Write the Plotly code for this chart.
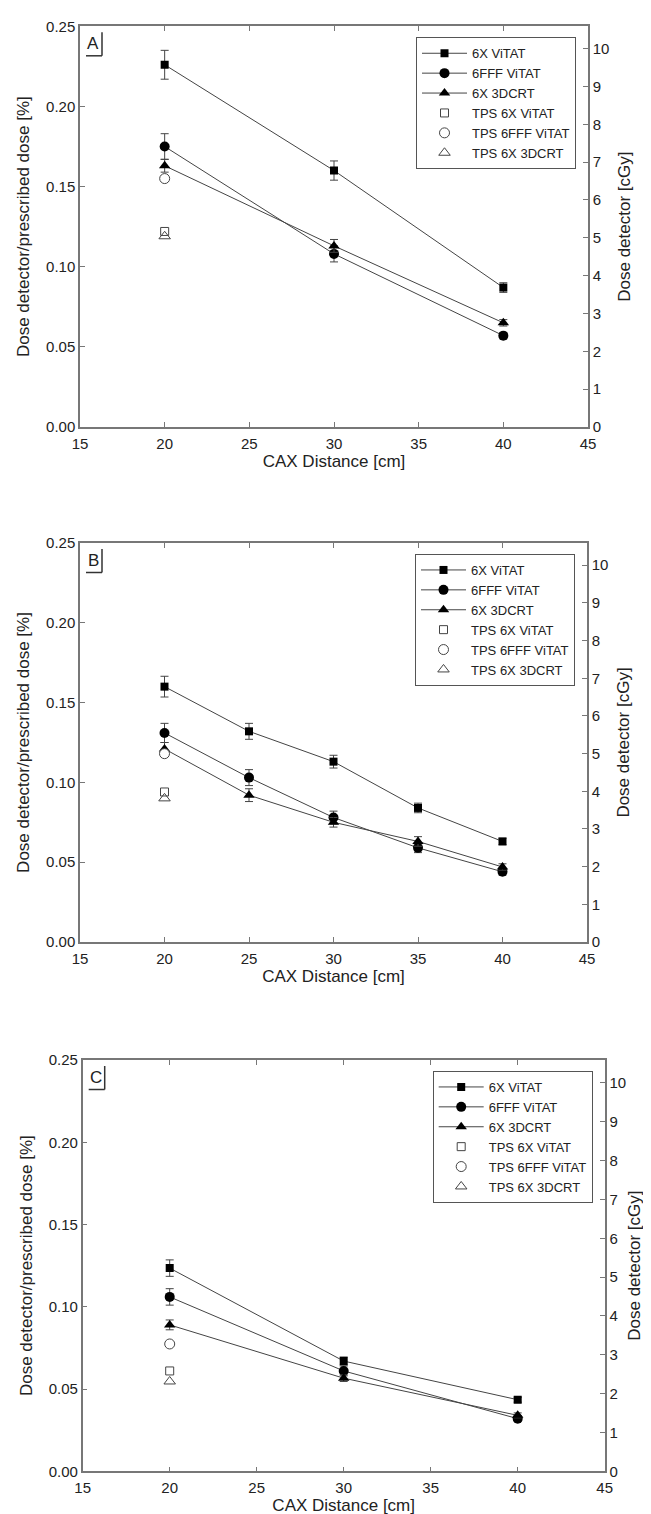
import plotly.graph_objects as go

W, H = 651, 1514

# ---- data (ratio detector / prescribed dose, %) ----
dist_a = [20, 30, 40]
vitat6x_a = [0.226, 0.160, 0.087]
vitat6x_err_a = [0.009, 0.006, 0.003]
fff_a = [0.175, 0.108, 0.057]
fff_err_a = [0.008, 0.005, 0.002]
crt_a = [0.163, 0.113, 0.065]
crt_err_a = [0.004, 0.004, 0.002]
tps_6x_a = [0.122]
tps_fff_a = [0.155]
tps_crt_a = [0.119]

dist_b = [20, 25, 30, 35, 40]
vitat6x_b = [0.160, 0.132, 0.113, 0.084, 0.063]
vitat6x_err_b = [0.0065, 0.005, 0.004, 0.003, 0.002]
fff_b = [0.131, 0.103, 0.078, 0.059, 0.044]
fff_err_b = [0.006, 0.005, 0.004, 0.003, 0.002]
crt_b = [0.121, 0.092, 0.075, 0.063, 0.047]
crt_err_b = [0.004, 0.004, 0.003, 0.003, 0.002]
tps_6x_b = [0.094]
tps_fff_b = [0.118]
tps_crt_b = [0.090]

dist_c = [20, 30, 40]
vitat6x_c = [0.1235, 0.067, 0.0435]
vitat6x_err_c = [0.005, 0.0025, 0.0015]
fff_c = [0.106, 0.061, 0.032]
fff_err_c = [0.005, 0.003, 0.0015]
crt_c = [0.089, 0.0566, 0.034]
crt_err_c = [0.003, 0.002, 0.0015]
tps_6x_c = [0.061]
tps_fff_c = [0.0774]
tps_crt_c = [0.0546]

tps_x = [20]
panel_labels = ["A", "B", "C"]
names = ["6X ViTAT", "6FFF ViTAT", "6X 3DCRT", "TPS 6X ViTAT", "TPS 6FFF ViTAT", "TPS 6X 3DCRT"]
cgy_max = 10.59  # right axis top, matches 0.25 on the left axis

# pixel boxes of the three plot areas (left, right, top, bottom)
boxes = [(72, 580, 18.3, 419), (72, 579, 535, 934), (74.7, 596.7, 1052, 1463.3)]
right_standoff = [10, 10, 3]

FONT = "Liberation Sans, Arial, sans-serif"
TXT = "#222"
AX = "#777"
LN = "#444"


def px(x):
    return x / W


def py(y):
    return 1 - y / H


panels = [
    (dist_a, [(vitat6x_a, vitat6x_err_a), (fff_a, fff_err_a), (crt_a, crt_err_a)], [tps_6x_a, tps_fff_a, tps_crt_a]),
    (dist_b, [(vitat6x_b, vitat6x_err_b), (fff_b, fff_err_b), (crt_b, crt_err_b)], [tps_6x_b, tps_fff_b, tps_crt_b]),
    (dist_c, [(vitat6x_c, vitat6x_err_c), (fff_c, fff_err_c), (crt_c, crt_err_c)], [tps_6x_c, tps_fff_c, tps_crt_c]),
]

filled = [("square", 8), ("circle", 10), ("triangle-up", 10)]
opened = [("square-open", 8, "rgba(0,0,0,0)"), ("circle", 10, "white"), ("triangle-up-open", 10, "rgba(0,0,0,0)")]

fig = go.Figure()
layout = dict(width=W, height=H, margin=dict(l=0, r=0, t=0, b=0),
              paper_bgcolor="white", plot_bgcolor="white",
              font=dict(family=FONT, size=15, color=TXT),
              shapes=[], annotations=[])

for i, (x, meas, tps) in enumerate(panels):
    xa = "x" if i == 0 else "x%d" % (i + 1)
    ya = "y" if i == 0 else "y%d" % (2 * i + 1)
    y2 = "y%d" % (2 * i + 2)
    leg = "legend" if i == 0 else "legend%d" % (i + 1)
    for k, (vals, err) in enumerate(meas):
        fig.add_trace(go.Scatter(
            x=x, y=vals, name=names[k], mode="lines+markers", xaxis=xa, yaxis=ya, legend=leg,
            line=dict(color=LN, width=1),
            marker=dict(symbol=filled[k][0], size=filled[k][1], color="black"),
            error_y=dict(type="data", array=err, color=LN, thickness=1, width=4)))
    for k, vals in enumerate(tps):
        sym, sz, fill = opened[k]
        fig.add_trace(go.Scatter(
            x=tps_x, y=vals, name=names[3 + k], mode="markers", xaxis=xa, yaxis=ya, legend=leg,
            marker=dict(symbol=sym, size=sz, color=fill if fill == "white" else "#444",
                        line=dict(color="#444", width=1))))
    # empty trace so the cGy axis gets drawn
    fig.add_trace(go.Scatter(x=[None], y=[None], xaxis=xa, yaxis=y2, showlegend=False,
                             hoverinfo="skip"))

    l, r, t, b = boxes[i]
    xk = "xaxis" if i == 0 else "xaxis%d" % (i + 1)
    yk = "yaxis" if i == 0 else "yaxis%d" % (2 * i + 1)
    y2k = "yaxis%d" % (2 * i + 2)
    layout[xk] = dict(domain=[px(l), px(r)], anchor=ya, range=[15, 45], dtick=5,
                      ticks="inside", ticklen=5, tickcolor=AX, showline=True, linecolor=AX,
                      linewidth=1.5, mirror="ticks", showgrid=False, zeroline=False,
                      ticklabelstandoff=2, automargin=False,
                      title=dict(text="CAX Distance [cm]", font=dict(size=17), standoff=2))
    layout[yk] = dict(domain=[py(b), py(t)], anchor=xa, range=[0, 0.25], dtick=0.05,
                      tickformat=".2f", ticks="inside", ticklen=5, tickcolor=AX,
                      showline=True, linecolor=AX, linewidth=1.5, showgrid=False, zeroline=False,
                      automargin=False,
                      title=dict(text="Dose detector/prescribed dose [%]", font=dict(size=17), standoff=12))
    layout[y2k] = dict(overlaying=ya, side="right", anchor=xa, range=[0, cgy_max], dtick=1,
                       ticks="inside", ticklen=5, tickcolor=AX, showline=True, linecolor=AX,
                       linewidth=1.5, showgrid=False, zeroline=False, automargin=False,
                       title=dict(text="Dose detector [cGy]", font=dict(size=17),
                                  standoff=right_standoff[i]))
    layout[leg] = dict(x=px(r - 12), y=py(t + 11), xanchor="right", yanchor="top",
                       bordercolor="#555", borderwidth=1, bgcolor="white",
                       font=dict(size=13, color=TXT), itemwidth=45, tracegroupgap=0)

    # panel letter with its shadow-style corner
    layout["annotations"].append(dict(text=panel_labels[i], xref="paper", yref="paper",
                                      x=px(l + 13), y=py(t + 17), xanchor="center", yanchor="middle",
                                      showarrow=False, font=dict(size=17, color=TXT)))
    layout["shapes"].append(dict(type="line", xref="paper", yref="paper",
                                 x0=px(l + 22), x1=px(l + 22), y0=py(t + 6), y1=py(t + 29.5),
                                 line=dict(color="#333", width=1.5)))
    layout["shapes"].append(dict(type="line", xref="paper", yref="paper",
                                 x0=px(l + 6), x1=px(l + 22), y0=py(t + 29.5), y1=py(t + 29.5),
                                 line=dict(color="#333", width=1.5)))

fig.update_layout(**layout)
fig.write_html("out.html")
